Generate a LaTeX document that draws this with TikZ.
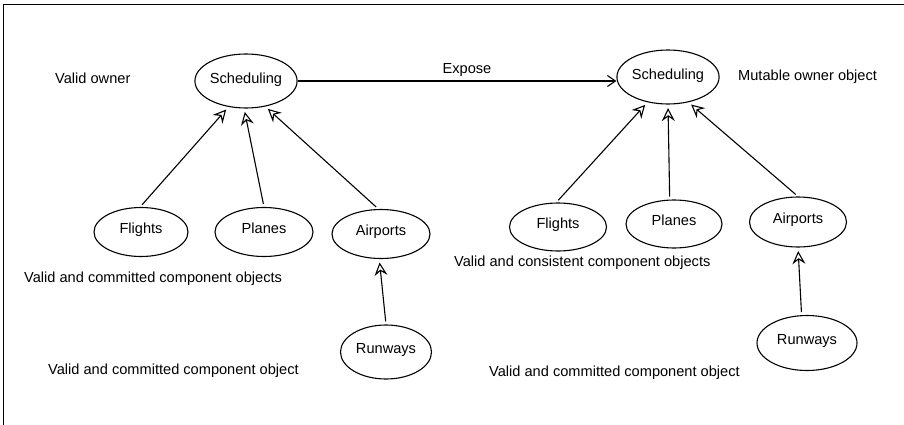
\documentclass[tikz,border=0pt]{standalone}
\usepackage{fontspec}
\setmainfont{Liberation Sans}
\usetikzlibrary{arrows.meta,shapes.geometric}

\begin{document}
\begin{tikzpicture}[x=1pt,y=-1pt,
  every node/.style={font=\fontsize{14.6}{17}\selectfont},
  obj/.style={ellipse, draw, line width=1.1pt, minimum width=97pt,
    minimum height=50pt, inner sep=0pt, text height=0.73em, text depth=0.45em},
  owner/.style={obj, minimum height=54pt, text depth=0.25em},
  lbl/.style={inner sep=0pt, text height=0.73em, text depth=0pt},
  lblw/.style={lbl, anchor=west},
  part/.style={draw, line width=1.1pt,
    -{Stealth[open,length=13pt,width=13pt,inset=4.5pt]},
    shorten >=3.5pt, shorten <=3pt},
  expose/.style={draw, line width=1.1pt,
    -{Straight Barb[length=8pt,width=11pt]}}
]
\useasboundingbox (0,0) rectangle (904,425);

% frame
\draw[line width=1pt] (3.5,425) -- (3.5,4.5) -- (904,4.5);

% left side: valid owner and its components
\node[owner, minimum width=90pt] (ls) at (246,81) {Scheduling};
\node[obj, minimum width=94pt, minimum height=49pt] (lf) at (141,232) {Flights};
\node[obj, minimum width=98pt, minimum height=49pt] (lp) at (264,232) {Planes};
\node[obj, minimum width=98pt, minimum height=49pt] (la) at (381,234) {Airports};
\node[obj, minimum width=91pt, minimum height=54pt] (lr) at (386,352) {Runways};

% right side: mutable owner and its components
\node[owner, minimum width=97pt] (rs) at (668,77) {Scheduling};
\node[obj, minimum width=97pt, minimum height=48pt] (rf) at (558,227) {Flights};
\node[obj, minimum width=96pt, minimum height=48pt] (rp) at (674,224) {Planes};
\node[obj, minimum width=97pt, minimum height=50pt] (ra) at (798,222) {Airports};
\node[obj, minimum width=100pt, minimum height=55pt] (rr) at (807,343) {Runways};

% captions
\node[lblw] (vo) at (55,80) {Valid owner};
\node[lblw] (mo) at (738,77) {Mutable owner object};
\node[lblw] (lco) at (24,279) {Valid and committed component objects};
\node[lblw] (lc1) at (48,371) {Valid and committed component object};
\node[lblw] (rco) at (454,263) {Valid and consistent component objects};
\node[lblw] (rc1) at (489,373) {Valid and committed component object};
\node[lbl] (exp) at (467,70) {Expose};

% expose transition
\draw[expose] (ls.east) -- (ls.east -| rs.west);

% component links
\draw[part] (lf.92) -- (ls.236);
\draw[part] (lp.90) -- (ls.266);
\draw[part] (la.96) -- (ls.307);
\draw[part] (lr.90) -- (la.266);
\draw[part] (rf.94) -- (rs.231);
\draw[part] (rp.100) -- (rs.270);
\draw[part] (ra.90) -- (rs.309);
\draw[part] (rr.101) -- (ra.270);
\end{tikzpicture}
\end{document}
